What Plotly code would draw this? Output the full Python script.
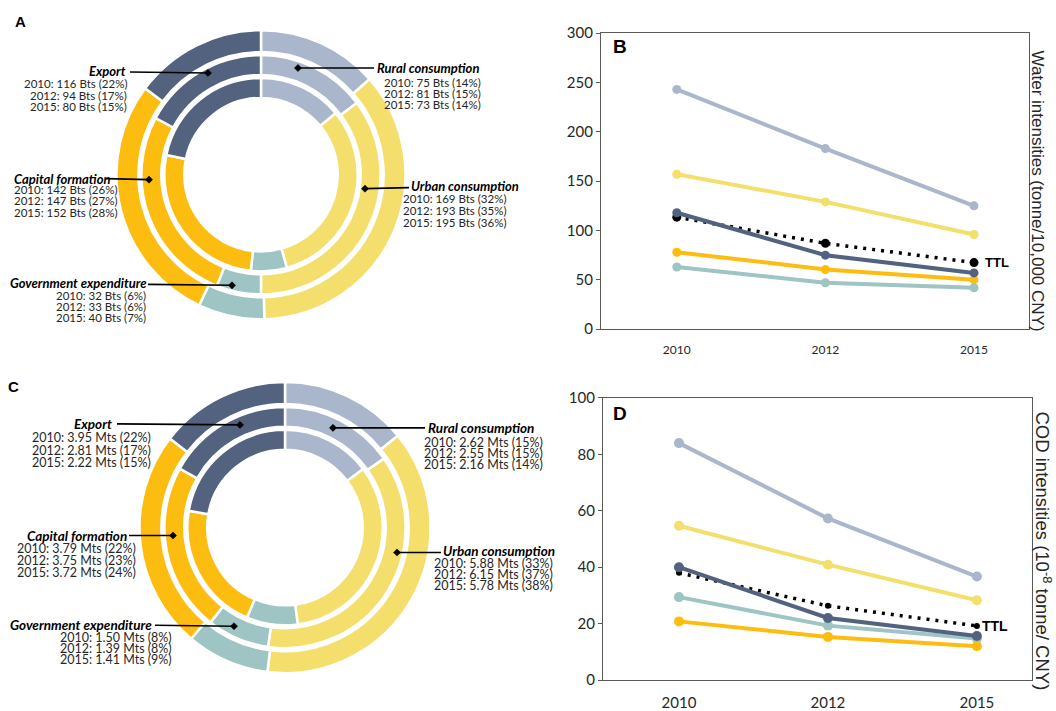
import plotly.graph_objects as go

W, H = 1056, 711
# the page renders the figure slightly shorter than requested; positions below
# are given in screen pixels and mapped through this effective height/offset
EFF_H, TOP_OFF = 693.2, 8.8

# ---------------------------------------------------------------- data
years = ["2010", "2012", "2015"]
sectors = ["Rural consumption", "Urban consumption", "Government expenditure",
           "Capital formation", "Export"]
colors = ["#A9B6CB", "#F4DE6C", "#9EC4C3", "#FDBD10", "#52627F"]

# Water footprint by final demand (Bts)
water_2010 = [75, 169, 32, 142, 116]
water_2012 = [81, 193, 33, 147, 94]
water_2015 = [73, 195, 40, 152, 80]
water_pct_2010 = [14, 32, 6, 26, 22]
water_pct_2012 = [15, 35, 6, 27, 17]
water_pct_2015 = [14, 36, 7, 28, 15]

# COD footprint by final demand (Mts)
cod_2010 = [2.62, 5.88, 1.50, 3.79, 3.95]
cod_2012 = [2.55, 6.15, 1.39, 3.75, 2.81]
cod_2015 = [2.16, 5.78, 1.41, 3.72, 2.22]
cod_pct_2010 = [15, 33, 8, 22, 22]
cod_pct_2012 = [15, 37, 8, 23, 17]
cod_pct_2015 = [14, 38, 9, 24, 15]

# Water intensities (tonne/10,000 CNY)
water_int_rural = [243, 183, 125]
water_int_urban = [157, 129, 96]
water_int_gov = [63, 47, 42]
water_int_capital = [78, 60.5, 50]
water_int_export = [118, 75, 57]
water_int_ttl = [113.5, 87, 67.5]

# COD intensities (1e-8 tonne/CNY)
cod_int_rural = [84, 57.3, 36.7]
cod_int_urban = [54.7, 40.9, 28.3]
cod_int_gov = [29.4, 19.3, 14.7]
cod_int_capital = [20.8, 15.3, 12]
cod_int_export = [40, 22, 15.6]
cod_int_ttl = [38, 26.3, 19.2]

FONT = "Lato"
TXT = "#262626"
AX = "#595959"


def fx(x):
    return x / W


def fy(y):
    return 1 - (y - TOP_OFF) / EFF_H


fig = go.Figure()


# ---------------------------------------------------------------- donuts
def ring(values, cx, cy, r_out, r_in):
    return go.Pie(
        values=values, labels=sectors, sort=False, direction="clockwise",
        rotation=0, hole=r_in / r_out,
        domain=dict(x=[fx(cx - r_out), fx(cx + r_out)],
                    y=[fy(cy + r_out), fy(cy - r_out)]),
        marker=dict(colors=colors, line=dict(color="white", width=2.5)),
        textinfo="none", hoverinfo="label+value+percent", showlegend=False,
    )


# panel A rings: inner 2010, middle 2012, outer 2015
ax_c, ay_c = 261, 174
fig.add_trace(ring(water_2010, ax_c, ay_c, 97, 77))
fig.add_trace(ring(water_2012, ax_c, ay_c, 120, 100))
fig.add_trace(ring(water_2015, ax_c, ay_c, 145, 123))

# panel C rings
cx_c, cy_c = 285, 528
fig.add_trace(ring(cod_2010, cx_c, cy_c, 98, 78))
fig.add_trace(ring(cod_2012, cx_c, cy_c, 121, 101))
fig.add_trace(ring(cod_2015, cx_c, cy_c, 146, 124))


# ---------------------------------------------------------------- line panels
def add_lines(series, ttl, xa, ya, msize, ttl_size):
    fig.add_trace(go.Scatter(
        x=years, y=ttl, xaxis=xa, yaxis=ya, mode="lines+markers",
        line=dict(color="black", width=3.5, dash="3px,6px"),
        marker=dict(color="black", size=ttl_size), showlegend=False,
        name="TTL"))
    for name, vals, col in series:
        fig.add_trace(go.Scatter(
            x=years, y=vals, xaxis=xa, yaxis=ya, mode="lines+markers",
            line=dict(color=col, width=4), marker=dict(color=col, size=msize),
            showlegend=False, name=name))


add_lines([
    (sectors[0], water_int_rural, colors[0]),
    (sectors[1], water_int_urban, colors[1]),
    (sectors[3], water_int_capital, colors[3]),
    (sectors[2], water_int_gov, colors[2]),
    (sectors[4], water_int_export, colors[4]),
], water_int_ttl, "x", "y", 9, 9)

add_lines([
    (sectors[0], cod_int_rural, colors[0]),
    (sectors[1], cod_int_urban, colors[1]),
    (sectors[2], cod_int_gov, colors[2]),
    (sectors[3], cod_int_capital, colors[3]),
    (sectors[4], cod_int_export, colors[4]),
], cod_int_ttl, "x2", "y2", 10, 6)

xcommon = dict(type="category", range=[-0.51, 2.37], showline=True, mirror=True,
               linecolor=AX, linewidth=1.3, showgrid=False, zeroline=False,
               ticks="outside", tickcolor="rgba(0,0,0,0)", fixedrange=True)
ycommon = dict(showline=True, mirror=True, linecolor=AX, linewidth=1.3,
               showgrid=False, zeroline=False, ticks="outside", ticklen=4,
               tickcolor=AX, fixedrange=True)

fig.update_layout(
    xaxis=dict(xcommon, domain=[fx(601), fx(1029)], anchor="y", ticklen=9,
               tickfont=dict(family=FONT, size=12, color=TXT)),
    yaxis=dict(ycommon, domain=[fy(329), fy(32)], anchor="x", range=[0, 300],
               dtick=50, tickfont=dict(family=FONT, size=15, color=TXT)),
    xaxis2=dict(xcommon, domain=[fx(603), fx(1032)], anchor="y2", ticklen=9,
                tickfont=dict(family=FONT, size=15, color=TXT)),
    yaxis2=dict(ycommon, domain=[fy(681), fy(398)], anchor="x2", range=[0, 100],
                dtick=20, tickfont=dict(family=FONT, size=15, color=TXT)),
)

annotations = []
shapes = []

# right-hand axis titles
annotations.append(dict(
    text="Water intensities (tonne/10,000 CNY)", xref="paper", yref="paper",
    x=fx(1037), y=fy(190), xanchor="center", yanchor="middle", textangle=90,
    showarrow=False, font=dict(family="Liberation Sans", size=17, color=TXT)))
annotations.append(dict(
    text="COD intensities (10<sup>-8</sup> tonne/ CNY)", xref="paper", yref="paper",
    x=fx(1043), y=fy(551), xanchor="center", yanchor="middle", textangle=90,
    showarrow=False, font=dict(family="Liberation Sans", size=18.5, color=TXT)))

# TTL tags (category axes take the category index)
last = len(years) - 1
annotations.append(dict(text="<b>TTL</b>", xref="x", yref="y", x=last,
                        y=water_int_ttl[-1], xanchor="left", yanchor="middle",
                        xshift=9, showarrow=False,
                        font=dict(family="Liberation Sans", size=13, color="black")))
annotations.append(dict(text="<b>TTL</b>", xref="x2", yref="y2", x=last,
                        y=cod_int_ttl[-1], xanchor="left", yanchor="middle",
                        xshift=3, showarrow=False,
                        font=dict(family="Liberation Sans", size=14, color="black")))

# panel letters
for letter, x, y, size in [("A", 20, 20, 15), ("C", 13, 387, 15),
                           ("B", 620, 45, 19), ("D", 620, 414, 19)]:
    annotations.append(dict(text=f"<b>{letter}</b>", xref="paper", yref="paper",
                            x=fx(x), y=fy(y), xanchor="center", yanchor="middle",
                            showarrow=False,
                            font=dict(family="Liberation Sans", size=size,
                                      color="black")))


# ---------------------------------------------------------------- callouts
def callout(idx, diamond, line_end, title, lines, texts, tsize, size):
    dx, dy = diamond
    ex, ey = line_end
    shapes.append(dict(type="line", xref="paper", yref="paper",
                       x0=fx(ex), y0=fy(ey), x1=fx(dx), y1=fy(dy),
                       line=dict(color="black", width=1.6)))
    s = 3.6
    path = (f"M {fx(dx - s)},{fy(dy)} L {fx(dx)},{fy(dy - s)} "
            f"L {fx(dx + s)},{fy(dy)} L {fx(dx)},{fy(dy + s)} Z")
    shapes.append(dict(type="path", xref="paper", yref="paper", path=path,
                       fillcolor="black", line=dict(color="black", width=0.5)))
    tx, ty, tanchor = title
    annotations.append(dict(text=f"<b><i>{sectors[idx]}</i></b>", xref="paper",
                            yref="paper", x=fx(tx), y=fy(ty), xanchor=tanchor,
                            yanchor="middle", showarrow=False, borderpad=0,
                            font=dict(family=FONT, size=tsize, color="black")))
    lx, lanchor, lys = lines
    for t, ly in zip(texts, lys):
        annotations.append(dict(text=t, xref="paper", yref="paper", x=fx(lx),
                                y=fy(ly), xanchor=lanchor, yanchor="middle",
                                showarrow=False, borderpad=0,
                                font=dict(family=FONT, size=size, color=TXT)))


def water_texts(i):
    return [f"{y}: {v[i]} Bts ({p[i]}%)" for y, v, p in zip(
        years, [water_2010, water_2012, water_2015],
        [water_pct_2010, water_pct_2012, water_pct_2015])]


def cod_texts(i):
    return [f"{y}: {v[i]:.2f} Mts ({p[i]}%)" for y, v, p in zip(
        years, [cod_2010, cod_2012, cod_2015],
        [cod_pct_2010, cod_pct_2012, cod_pct_2015])]


a_layout = [
    (0, (298, 67), (374, 67), (376, 67, "left"), (482, "right", [82, 93, 104])),
    (1, (365, 188), (409, 187), (410, 185, "left"), (507, "right", [198, 210, 222])),
    (2, (232, 285), (148, 284), (147, 283, "right"), (147, "right", [295, 306, 317])),
    (3, (149, 179), (106, 178), (13, 178, "left"), (13, "left", [189, 200, 212])),
    (4, (208, 72), (130, 71), (127, 70, "right"), (128, "right", [83, 95, 106])),
]
for idx, dia, le, ti, li in a_layout:
    callout(idx, dia, le, ti, li, water_texts(idx), 13, 11.5)

c_layout = [
    (0, (333, 428), (425, 428), (427, 428, "left"), (423, "left", [443, 454, 465])),
    (1, (397, 553), (441, 553), (442, 552, "left"), (433, "left", [564, 575, 586])),
    (2, (234, 627), (155, 626), (153, 626, "right"), (173, "right", [638, 649, 660])),
    (3, (173, 536), (129, 536), (128, 536, "right"), (137, "right", [549, 561, 573])),
    (4, (240, 425), (117, 424), (113, 424, "right"), (152, "right", [438, 451, 463])),
]
for idx, dia, le, ti, li in c_layout:
    callout(idx, dia, le, ti, li, cod_texts(idx), 13.5, 12.5)

fig.update_layout(
    width=W, height=H, margin=dict(l=0, r=0, t=0, b=0),
    paper_bgcolor="white", plot_bgcolor="white",
    annotations=annotations, shapes=shapes, showlegend=False,
    font=dict(family=FONT, color=TXT),
)

fig.write_html("out.html")
